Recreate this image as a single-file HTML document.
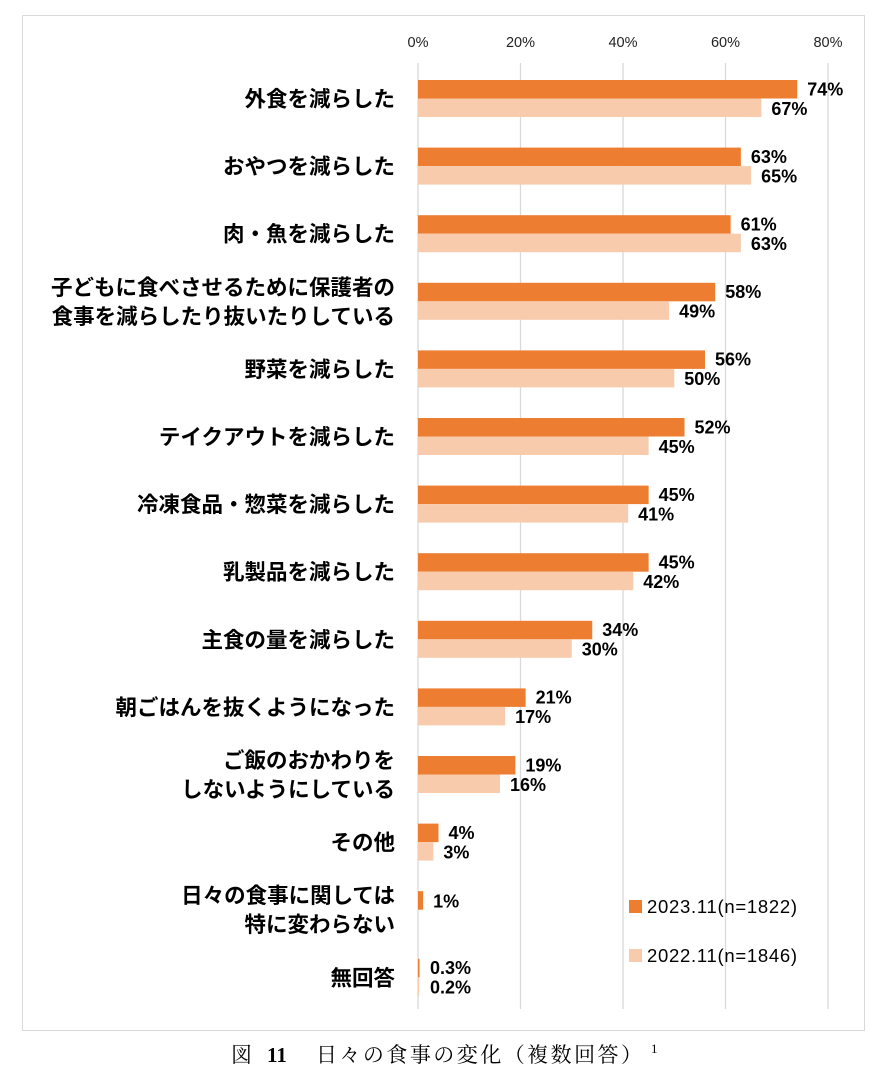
<!DOCTYPE html>
<html><head><meta charset="utf-8">
<style>
body{margin:0;background:#fff;width:884px;height:1080px;overflow:hidden;}
svg text{font-family:"Liberation Sans","Noto Sans CJK JP",sans-serif;}
</style></head>
<body>
<svg id="chart" width="884" height="1080" viewBox="0 0 884 1080" xmlns="http://www.w3.org/2000/svg">
<rect x="22.5" y="15.5" width="842" height="1015" fill="#fff" stroke="#d9d9d9" stroke-width="1"/>
<g id="grid"></g>
<g id="bars"></g>
<g id="legend">
<rect x="629" y="900" width="13" height="13" fill="#ed7d31"/>
<text x="647" y="913" font-size="18.5" fill="#000" textLength="150">2023.11(n=1822)</text>
<rect x="629" y="949" width="13" height="13" fill="#f8cbad"/>
<text x="647" y="962" font-size="18.5" fill="#000" textLength="150">2022.11(n=1846)</text>
</g>
<g font-size="21">
<text x="231" y="1062" style="font-family:'Liberation Serif','Noto Serif CJK SC',serif">図</text>
<text x="267" y="1062" font-weight="bold" style="font-family:'Liberation Serif',serif">11</text>
<text x="316" y="1062" textLength="326" style="font-family:'Liberation Serif','Noto Serif CJK SC',serif">日々の食事の変化（複数回答）</text>
<text x="651" y="1053" font-size="13" style="font-family:'Liberation Serif',serif">1</text>
</g>
</svg>
<script>
const categories=[["外食を減らした"],["おやつを減らした"],["肉・魚を減らした"],["子どもに食べさせるために保護者の","食事を減らしたり抜いたりしている"],["野菜を減らした"],["テイクアウトを減らした"],["冷凍食品・惣菜を減らした"],["乳製品を減らした"],["主食の量を減らした"],["朝ごはんを抜くようになった"],["ご飯のおかわりを","しないようにしている"],["その他"],["日々の食事に関しては","特に変わらない"],["無回答"]];
const series2023=[74,63,61,58,56,52,45,45,34,21,19,4,1,0.3];
const series2022=[67,65,63,49,50,45,41,42,30,17,16,3,null,0.2];
const ticks=[0,20,40,60,80];
const NS="http://www.w3.org/2000/svg";
const x0=418, x80=828;
function xs(v){return x0+(x80-x0)*v/80;}
function yg(i){return 80+i*67.6;}
const grid=document.getElementById('grid'),bars=document.getElementById('bars');
function mk(tag,attrs,parent){const e=document.createElementNS(NS,tag);for(const k in attrs)e.setAttribute(k,attrs[k]);parent.appendChild(e);return e;}
ticks.forEach(t=>{
 const l=mk('line',{x1:xs(t),x2:xs(t),y1:63,y2:1009,stroke:'#d9d9d9','stroke-width':1.3},grid);
 
 
 const tx=mk('text',{x:xs(t),y:47,'text-anchor':'middle','font-size':14.5,fill:'#222'},grid);
 tx.textContent=t+'%';
 
 
});
const fmt=v=>(v<1?v.toFixed(1):v)+'%';
categories.forEach((c,i)=>{
 const y=yg(i),h=18.5;
 const cy=y+h;
 const lab=mk('text',{x:395,'text-anchor':'end','font-size':21.5,'font-weight':'bold',fill:'#000'},bars);
 
 
 c.forEach((s,j)=>{const ts=mk('tspan',{x:395,y:cy+8+(j-(c.length-1)/2)*29},lab);ts.textContent=s;});
 const v1=series2023[i];
 const b1=mk('rect',{x:x0,y:y,width:Math.max(xs(v1)-x0,1.2),height:h,fill:'#ed7d31'},bars);
 
 
 const t1=mk('text',{x:Math.max(xs(v1),x0+2)+10,y:y+h/2+7+(series2022[i]==null?0:-1),'font-size':18,'font-weight':'bold',fill:'#000'},bars);
 t1.textContent=fmt(v1);
 
 
 const v2=series2022[i];
 if(v2!=null){
  const b2=mk('rect',{x:x0,y:y+h,width:Math.max(xs(v2)-x0,1.2),height:h,fill:'#f8cbad'},bars);
  
  
  const t2=mk('text',{x:Math.max(xs(v2),x0+2)+10,y:y+h*1.5+7,'font-size':18,'font-weight':'bold',fill:'#000'},bars);
  t2.textContent=fmt(v2);
  
  
 }
});
</script>
</body></html>
